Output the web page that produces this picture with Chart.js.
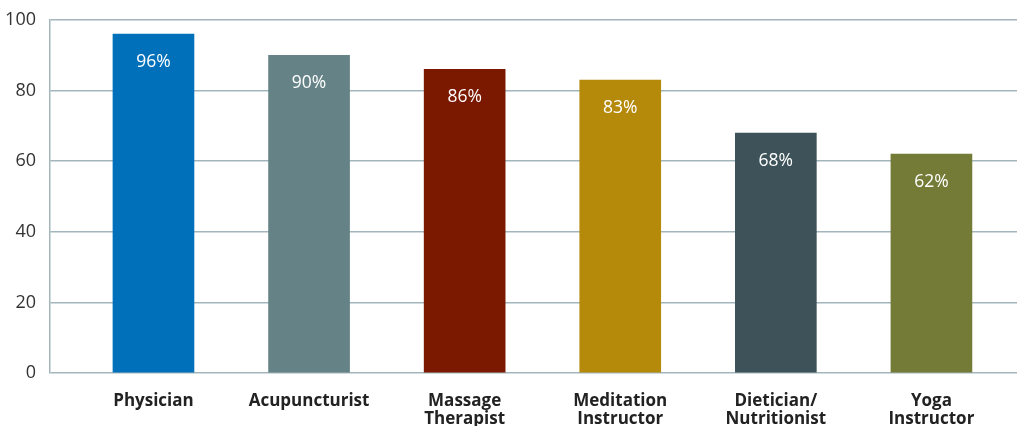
<!DOCTYPE html>
<html>
<head>
    <title>Bar Chart</title>
    <script src="https://cdn.jsdelivr.net/npm/chart.js@4"></script>
    <style>
        html, body { margin: 0; padding: 0; background: #fff; }
        #wrap { width: 1017px; height: 426px; position: relative; }
    </style>
</head>
<body>
<div id="wrap"><canvas id="bar-chart"></canvas></div>
<script>
    const categories = [
        ['Physician'],
        ['Acupuncturist'],
        ['Massage', 'Therapist'],
        ['Meditation', 'Instructor'],
        ['Dietician/', 'Nutritionist'],
        ['Yoga', 'Instructor']
    ];
    const percents = [96, 90, 86, 83, 68, 62];
    const barColors = ['#0070ba', '#658386', '#7b1800', '#b5890a', '#3e5359', '#747b36'];
    const yTicks = [0, 20, 40, 60, 80, 100];

    const gridColor = '#a3b5bc';

    // white value labels inside the top of each bar
    const valueLabels = {
        id: 'valueLabels',
        afterDatasetsDraw(chart) {
            const ctx = chart.ctx;
            const meta = chart.getDatasetMeta(0);
            ctx.save();
            ctx.fillStyle = '#ffffff';
            ctx.font = '17.5px "Open Sans"';
            ctx.textAlign = 'center';
            ctx.textBaseline = 'middle';
            meta.data.forEach(function(bar, i) {
                ctx.fillText(percents[i] + '%', bar.x, bar.y + 28);
            });
            ctx.restore();
        }
    };

    new Chart(document.getElementById('bar-chart'), {
        type: 'bar',
        data: {
            datasets: [{
                data: percents.map((v, i) => ({ x: i, y: v })),
                backgroundColor: barColors,
                borderWidth: 0,
                barThickness: 81
            }]
        },
        options: {
            responsive: true,
            maintainAspectRatio: false,
            animation: false,
            layout: { padding: { top: 20, right: 0, left: 0, bottom: 0 } },
            plugins: {
                legend: { display: false },
                tooltip: { enabled: false }
            },
            scales: {
                x: {
                    type: 'linear',
                    offset: false,
                    min: -0.665,
                    max: 5.55,
                    grid: { display: false, drawTicks: false, offset: false },
                    border: { display: false },
                    afterFit(scale) {
                        scale.height = 53;
                        scale.paddingLeft = 0;
                        scale.paddingRight = 0;
                    },
                    ticks: {
                        stepSize: 1,
                        includeBounds: false,
                        autoSkip: false,
                        maxRotation: 0,
                        padding: 19,
                        color: '#222222',
                        font: { family: '"Open Sans"', size: 17, weight: 'bold', lineHeight: 1.05 },
                        callback: function(value) {
                            return Number.isInteger(value) && categories[value] ? categories[value] : '';
                        }
                    }
                },
                y: {
                    min: 0,
                    max: 100,
                    afterFit(scale) {
                        scale.width = 50;
                        scale.paddingTop = 0;
                        scale.paddingBottom = 0;
                    },
                    afterBuildTicks(scale) { scale.ticks = yTicks.map(v => ({ value: v })); },
                    grid: { color: gridColor, lineWidth: 1.5, drawTicks: false },
                    border: { display: true, color: gridColor, width: 1.5 },
                    ticks: {
                        padding: 14,
                        color: '#333333',
                        font: { family: '"Open Sans"', size: 18 }
                    }
                }
            }
        },
        plugins: [valueLabels]
    });
</script>
</body>
</html>
